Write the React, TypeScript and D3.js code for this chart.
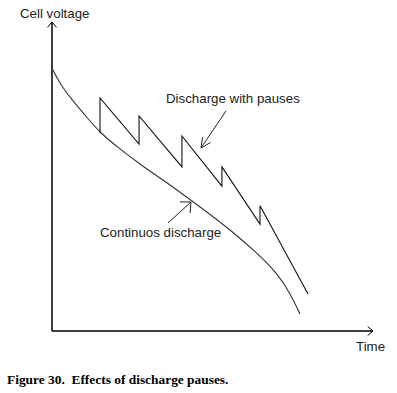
import * as d3 from "d3";

// abstract units: time 0..100, voltage 0..100
const continuousTime = [0, 2.5, 6.25, 9.7, 15, 21.25, 27.5, 33.75, 40, 48.4, 56.6, 64.1, 70.3, 74.4, 77.5];
const continuousVolt = [85.1, 79.9, 74.8, 70.6, 64.1, 58.9, 54.0, 49.5, 45, 38.5, 32, 25.2, 18.8, 12.3, 5.5];

const pausesTime = [15, 15, 27.2, 27.2, 40.6, 40.6, 53.1, 53.1, 65, 65, 80];
const pausesVolt = [64.1, 75.4, 60.5, 69.6, 53.1, 63.1, 46.9, 53.1, 34.6, 40.5, 12];

const axisLabels = { y: "Cell voltage", x: "Time" };
const seriesLabels = ["Discharge with pauses", "Continuos discharge"];
const caption = "Figure 30.  Effects of discharge pauses.";

const W = 397;
const H = 393;

export default function App() {
  const x = d3.scaleLinear().domain([0, 100]).range([52, 372]);
  const y = d3.scaleLinear().domain([0, 100]).range([331, 22]);

  const contLine = d3
    .line<number>()
    .x((d, i) => x(continuousTime[i]))
    .y((d) => y(d))
    .curve(d3.curveBasis);

  const pauseLine = d3
    .line<number>()
    .x((d, i) => x(pausesTime[i]))
    .y((d) => y(d));

  // open arrow head at (tx,ty) coming from (fx,fy)
  const head = (fx: number, fy: number, tx: number, ty: number, len = 8, ang = 0.5) => {
    const a = Math.atan2(ty - fy, tx - fx);
    const p1 = [tx - len * Math.cos(a - ang), ty - len * Math.sin(a - ang)];
    const p2 = [tx - len * Math.cos(a + ang), ty - len * Math.sin(a + ang)];
    return `M${p1[0]},${p1[1]}L${tx},${ty}L${p2[0]},${p2[1]}`;
  };

  const x0 = x(0), y0 = y(0);
  const xEnd = x(100) + 1, yEnd = y(100);

  return (
    <svg
      width={W}
      height={H}
      style={{ position: "absolute", left: 0, top: 0, background: "#fff" }}
      fontFamily="Arial, 'Liberation Sans', sans-serif"
    >
      {/* axes */}
      <g stroke="#000" strokeWidth={1.5} fill="none">
        <line x1={x0} y1={y0} x2={x0} y2={yEnd} />
        <line x1={x0} y1={y0} x2={xEnd} y2={y0} />
        <path d={head(x0, y0, x0, yEnd, 7, 0.7)} strokeWidth={1} />
        <path d={head(x0, y0, xEnd, y0, 7, 0.7)} strokeWidth={1} />
      </g>

      {/* curves */}
      <path d={contLine(continuousVolt) ?? ""} fill="none" stroke="#333" strokeWidth={1.1} />
      <path d={pauseLine(pausesVolt) ?? ""} fill="none" stroke="#111" strokeWidth={1.1} />

      {/* annotation arrows */}
      <g stroke="#222" strokeWidth={1} fill="none">
        <line x1={226} y1={111} x2={201} y2={148} />
        <path d={head(226, 111, 201, 148, 11, 0.45)} />
        <line x1={168} y1={223} x2={191} y2={202} />
        <path d={head(168, 223, 191, 202, 11, 0.75)} />
      </g>

      <g fill="#222" fontSize={13.3}>
        <text x={20} y={18}>{axisLabels.y}</text>
        <text x={356} y={351}>{axisLabels.x}</text>
        <text x={166} y={103}>{seriesLabels[0]}</text>
        <text x={100} y={237}>{seriesLabels[1]}</text>
      </g>

      <text
        x={7}
        y={384}
        fontFamily="'Times New Roman', 'Liberation Serif', serif"
        fontWeight="bold"
        fontSize={13.4}
        style={{ whiteSpace: "pre" }}
        fill="#000"
      >
        {caption}
      </text>
    </svg>
  );
}
